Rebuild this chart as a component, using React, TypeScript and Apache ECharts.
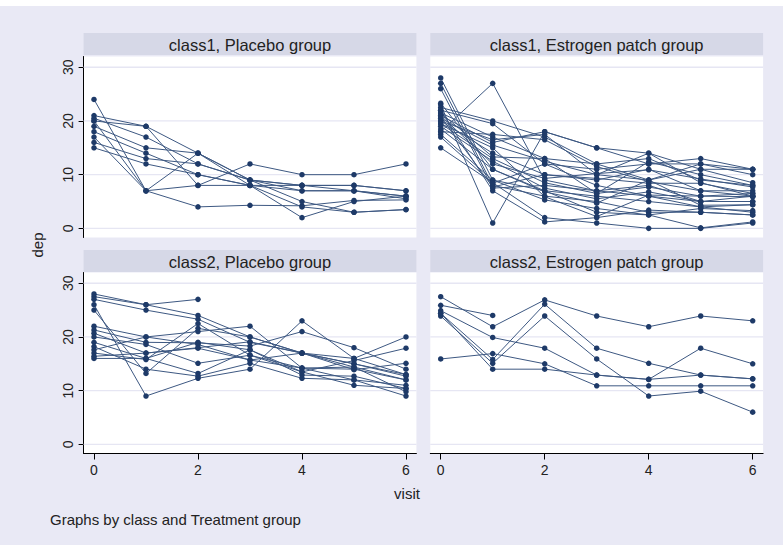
import React, { useEffect, useRef } from "react";
import * as echarts from "echarts";

const visits = [0, 1, 2, 3, 4, 5, 6];
const yTicks = [0, 10, 20, 30];
const xTicks = [0, 2, 4, 6];

const panelTitles = [
  "class1, Placebo group",
  "class1, Estrogen patch group",
  "class2, Placebo group",
  "class2, Estrogen patch group",
];

// class1, Placebo group (dep by visit 0..6)
const class1Placebo: number[][] = [
  [24, 7, 14, 9, 8, 7, 6],
  [20, 7, 8, 12, 10, 10, 12],
  [17, 7, 4, 4.3, 4.2, 5.2, 5.3],
  [21, 19, 14, 9, 8, 8, 7],
  [20, 19, 8, 8, 2, 5, 6],
  [20.5, 17, 12, 9, 7, 7, 5.5],
  [19, 15, 14, 8, 7, 7, 6],
  [18, 14, 10, 8, 8, 8, 7],
  [16, 13, 12, 9, 5, 3, 3.5],
  [15, 12, 10, 8, 4, 3, 3.5],
];

// class1, Estrogen patch group
const class1Estrogen: number[][] = [
  [28, 9, 7, 6, 5, 4, 3],
  [27, 8, 6, 5, 3, 3, 2.5],
  [26, 7.5, 8, 7, 6, 5, 6],
  [23, 1, 18, 15, 14, 11, 11],
  [18, 27, 9, 7, 8, 5, 5],
  [22.5, 20, 17, 12, 13, 9, 8],
  [22, 19.5, 12, 11, 12, 13, 11],
  [21.5, 17, 13, 12, 9, 12, 10],
  [21, 16, 18, 15, 12, 12, 11],
  [20.5, 15.5, 12.5, 10, 9, 11, 8.5],
  [20, 14, 10, 9, 11, 7, 7],
  [19.5, 13, 8.5, 6.5, 7.7, 6, 6.5],
  [19, 12.5, 7.5, 5.5, 6.8, 5, 5],
  [18.5, 11, 6.8, 4.7, 9, 4.3, 4.4],
  [17.5, 9, 5.3, 3.7, 2.5, 3.7, 3.3],
  [15, 8.5, 2, 1, 0, 0, 1],
  [20, 16.5, 17.5, 10, 14, 8.5, 6],
  [22, 7, 1.2, 2, 3.4, 3, 2.5],
  [21, 12, 9.3, 10.2, 10.9, 9.2, 7.7],
  [23.3, 11, 7, 3, 2.5, 0.1, 1.2],
  [19.5, 15, 5.9, 2.2, 6.2, 6, 5.9],
  [18, 17.5, 16.5, 11.5, 8.7, 7, 6],
  [20.8, 7.7, 10, 9.3, 8.4, 8.4, 6.5],
  [21.5, 13.3, 13, 6.5, 12.4, 10, 8],
  [17, 8.4, 12, 8, 6, 4, 4.4],
];

// class2, Placebo group
const class2Placebo: number[][] = [
  [27.5, 26, 27],
  [28, 26, 24, 20, 17, 15, 13],
  [27, 25, 23.3, 19, 17, 14.4, 12],
  [26, 9, 12.3, 14, 23, 16, 13],
  [25, 13.2, 21.6, 20, 17, 15, 12.7],
  [22, 20, 21, 22, 14.2, 12, 11],
  [21.3, 19, 18.9, 18.3, 21, 18, 14],
  [20.7, 17, 17.9, 15.7, 17, 16, 20],
  [20, 18.6, 15.1, 16.6, 13.5, 15.6, 17.9],
  [19, 16, 13.2, 17.6, 12.9, 12.7, 10.4],
  [18.2, 14, 12.7, 15.1, 12.3, 12, 9],
  [17.6, 20, 18.6, 15.7, 14.2, 14.4, 9.8],
  [17, 15.8, 22.5, 16.6, 14.2, 14, 12],
  [16.4, 17, 18, 19.1, 17, 13.9, 15.1],
  [16, 16, 19, 17.6, 13.5, 11, 10.4],
];

// class2, Estrogen patch group
const class2Estrogen: number[][] = [
  [27.5, 21.9, 26.9, 23.9, 21.9, 23.9, 23],
  [25.9, 24],
  [24.9, 19.9, 17.9, 12.9, 12.1, 17.9, 15],
  [24.4, 15.8, 26.1, 17.9, 15.1, 12.9, 12.2],
  [23.9, 15.1, 23.9, 15.9, 9, 9.9, 6],
  [15.9, 16.9, 15, 10.9, 10.9, 10.9, 10.9],
  [24.4, 14, 14, 12.9, 12.1, 12.9, 12.2],
];

const panels = [class1Placebo, class1Estrogen, class2Placebo, class2Estrogen];

const LINE = "#3d5882";
const MARK = "#1e3a68";
const FONT = "Liberation Sans, Arial, sans-serif";
const X_MIN = -0.2;
const X_MAX = 6.2;

const grids = [
  { left: 83.6, top: 56.5, width: 332.8, height: 181 },
  { left: 430.3, top: 56.5, width: 332.8, height: 181 },
  { left: 83.6, top: 272.5, width: 332.8, height: 181 },
  { left: 430.3, top: 272.5, width: 332.8, height: 181 },
];

export default function App() {
  const ref = useRef<HTMLDivElement>(null);
  useEffect(() => {
    if (!ref.current) return;
    const chart = echarts.init(ref.current, null, { renderer: "svg" });

    const xAxis = grids.map((_, i) => {
      const showAxis = i >= 2;
      return {
        type: "value",
        gridIndex: i,
        min: X_MIN,
        max: X_MAX,
        axisLine: { show: showAxis, onZero: false, lineStyle: { color: "#000", width: 1 } },
        axisTick: {
          show: showAxis,
          customValues: xTicks,
          length: 6,
          lineStyle: { color: "#000" },
        },
        axisLabel: {
          show: showAxis,
          customValues: xTicks,
          margin: 9,
          fontSize: 14,
          color: "#222",
          fontFamily: FONT,
        },
        splitLine: { show: false },
      };
    });

    const yAxis = grids.map((_, i) => {
      const showAxis = i % 2 === 0;
      return {
        type: "value",
        gridIndex: i,
        min: -1.7,
        max: 32,
        axisLine: { show: showAxis, onZero: false, lineStyle: { color: "#000", width: 1 } },
        axisTick: {
          show: showAxis,
          customValues: yTicks,
          length: 5,
          lineStyle: { color: "#000" },
        },
        axisLabel: {
          show: showAxis,
          customValues: yTicks,
          rotate: 90,
          margin: 9,
          fontSize: 14,
          color: "#222",
          fontFamily: FONT,
        },
        splitLine: { show: false },
      };
    });

    const series: any[] = [];
    panels.forEach((lines, p) => {
      yTicks.forEach((t) => {
        series.push({
          type: "line",
          xAxisIndex: p,
          yAxisIndex: p,
          z: 1,
          silent: true,
          symbol: "none",
          lineStyle: { color: "#e6e6f3", width: 1.3 },
          data: [
            [X_MIN, t],
            [X_MAX, t],
          ],
        });
      });
      lines.forEach((vals) => {
        series.push({
          type: "line",
          xAxisIndex: p,
          yAxisIndex: p,
          z: 2,
          symbol: "circle",
          symbolSize: 5.5,
          lineStyle: { color: LINE, width: 1 },
          itemStyle: { color: MARK },
          data: vals.map((v, k) => [visits[k], v]),
        });
      });
    });

    const strips: any[] = [];
    grids.forEach((g, i) => {
      const y = i < 2 ? 33 : 250;
      strips.push({
        type: "rect",
        shape: { x: g.left, y, width: g.width, height: 22 },
        style: { fill: "#d6d8e7" },
        z: 0,
      });
      strips.push({
        type: "text",
        x: g.left + g.width / 2,
        y: y + 11.5,
        style: {
          text: panelTitles[i],
          fill: "#222",
          font: `16.5px ${FONT}`,
          align: "center",
          verticalAlign: "middle",
        },
      });
    });

    chart.setOption({
      animation: false,
      backgroundColor: "#e9e9f5",
      grid: grids.map((g) => ({ ...g, backgroundColor: "#fff", show: true, borderWidth: 0 })),
      xAxis,
      yAxis,
      series,
      graphic: [
        {
          type: "rect",
          shape: { x: 0, y: 0, width: 783, height: 6 },
          style: { fill: "#fff" },
        },
        ...strips,
        {
          type: "text",
          x: 37,
          y: 245,
          rotation: Math.PI / 2,
          style: {
            text: "dep",
            fill: "#222",
            font: `15px ${FONT}`,
            align: "center",
            verticalAlign: "middle",
          },
        },
        {
          type: "text",
          x: 407,
          y: 493,
          style: {
            text: "visit",
            fill: "#222",
            font: `15px ${FONT}`,
            align: "center",
            verticalAlign: "middle",
          },
        },
        {
          type: "text",
          x: 50,
          y: 519,
          style: {
            text: "Graphs by class and Treatment group",
            fill: "#222",
            font: `15px ${FONT}`,
            align: "left",
            verticalAlign: "middle",
          },
        },
      ],
    });
    return () => chart.dispose();
  }, []);
  return (
    <div
      ref={ref}
      style={{ position: "fixed", left: 0, top: 0, width: 783, height: 545 }}
    />
  );
}
